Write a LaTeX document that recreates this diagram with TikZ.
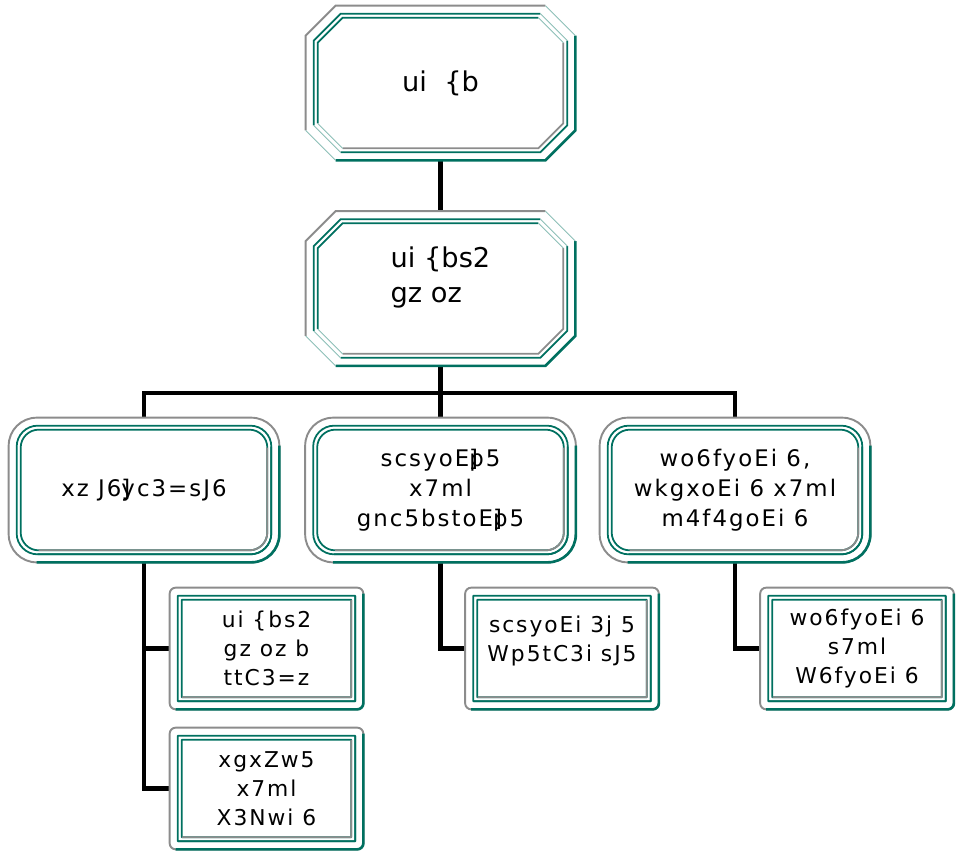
\documentclass[tikz,border=0pt]{standalone}
\usepackage{fontspec}
\setmainfont{DejaVu Sans}
\newfontfamily\boxfont[LetterSpace=9]{DejaVu Sans}
\usetikzlibrary{calc}

\definecolor{frameteal}{RGB}{0,112,96}
\definecolor{framegray}{RGB}{140,140,140}

% moldura chanfrada: no, recuo, chanfro, cor de cima, cor de baixo
\newcommand\octframe[5]{%
  \coordinate (nw) at ($(#1.north west)+(#2,#2)$);
  \coordinate (se) at ($(#1.south east)-(#2,#2)$);
  \draw[#4] ($(se -| nw)+(0,-#3)$) -- ($(nw)+(0,#3)$) -- ($(nw)+(#3,0)$) -- ($(nw -| se)+(-#3,0)$);
  \draw[#5] ($(nw -| se)+(0,#3)$) -- ($(se)+(0,-#3)$) -- ($(se)+(-#3,0)$) -- ($(se -| nw)+(#3,0)$);
  \draw[frameteal!45, line width=0.5pt] ($(nw -| se)+(-#3,0)$) -- ($(nw -| se)+(0,#3)$)
    ($(se -| nw)+(#3,0)$) -- ($(se -| nw)+(0,-#3)$);
}
% moldura arredondada: no, recuo, raio, cor de cima, cor de baixo
\newcommand\roundframe[5]{%
  \coordinate (nw) at ($(#1.north west)+(#2,#2)$);
  \coordinate (se) at ($(#1.south east)-(#2,#2)$);
  \draw[#4, rounded corners={#3*0.569pt}] (nw) rectangle (se);
  \draw[#5, rounded corners={#3*0.569pt}] ($(nw -| se)+(0,#3)$) -- (se) -- ($(se -| nw)+(#3,0)$);
}

\begin{document}
\begin{tikzpicture}[
    x=0.02cm, y=-0.02cm,
    caixa/.style={rectangle, inner sep=0pt, align=center},
    nivel1/.style={caixa, minimum width=5.38cm, minimum height=3.08cm, font=\fontsize{15.5}{20}\selectfont},
    nivel2/.style={caixa, minimum width=5.4cm, minimum height=2.88cm, font=\boxfont\fontsize{13}{17}\selectfont},
    nivel3/.style={caixa, minimum width=3.86cm, minimum height=2.42cm, font=\boxfont\fontsize{12.4}{16.4}\selectfont},
    ligacao/.style={line width=2.3pt},
    cinza/.style={framegray, line width=1.1pt},
    verde/.style={frameteal, line width=1.5pt},
    verdefino/.style={frameteal, line width=1pt},
    cinzafino/.style={framegray, line width=1pt}
  ]
  \useasboundingbox (0,0) rectangle (956,856);

  % caixas
  \node[nivel1] (raiz) at (440.5,83) {\raisebox{-4pt}{ui\ \ \{b}};
  \node[nivel1, align=left] (orgao) at (440.5,288.5) {ui \{bs2\\gz oz\\[-10pt]\strut};

  \node[nivel2] (esq) at (144,490) {xz J6\rlap{]}yc3=sJ6};
  \node[nivel2] (meio) at (440.5,490) {scsyoE\rlap{]}p5\\x7ml\\gnc5bstoE\rlap{]}p5};
  \node[nivel2] (dir) at (735,490) {wo6fyoEi 6,\\wkgxoEi 6 x7ml\\m4f4goEi 6};

  \node[nivel3] (esq1) at (266.5,648.5) {ui \{bs2\\gz oz b\\ttC3=z};
  \node[nivel3] (esq2) at (266.5,788.5) {xgxZw5\\x7ml\\X3Nwi 6};
  \node[nivel3] (meio1) at (562,648.5) {scsyoEi 3j 5\\Wp5tC3i sJ5\\[-10pt]\strut};
  \node[nivel3] (dir1) at (857,648.5) {wo6fyoEi 6\\s7ml\\W6fyoEi 6};

  % ligacoes
  \coordinate (barra) at (440.5,393);
  \draw[ligacao] (raiz.south) -- (orgao.north);
  \draw[ligacao] (orgao.south) -- (barra);
  \draw[ligacao] (esq.north) |- (barra) -| (dir.north);
  \draw[ligacao] (barra) -- (meio.north);
  \draw[ligacao] (esq.south) |- (esq1.west);
  \draw[ligacao] (esq.south) |- (esq2.west);
  \draw[ligacao] (meio.south) |- (meio1.west);
  \draw[ligacao] (dir.south) |- (dir1.west);

  % molduras
  \foreach \n in {raiz, orgao} {
    \octframe{\n}{0}{30}{cinza}{verde}
    \octframe{\n}{8}{27}{verdefino}{verdefino}
    \octframe{\n}{12}{25}{verdefino}{cinzafino}
  }
  \foreach \n in {esq, meio, dir} {
    \roundframe{\n}{0}{28}{cinza}{verde}
    \roundframe{\n}{8}{21}{verdefino}{verdefino}
    \roundframe{\n}{12}{18}{verdefino}{cinzafino}
  }
  \foreach \n in {esq1, esq2, meio1, dir1} {
    \roundframe{\n}{0}{6}{cinza}{verde}
    \roundframe{\n}{8}{0.5}{verdefino}{verdefino}
    \roundframe{\n}{12}{0.5}{verdefino}{cinzafino}
  }
\end{tikzpicture}
\end{document}
